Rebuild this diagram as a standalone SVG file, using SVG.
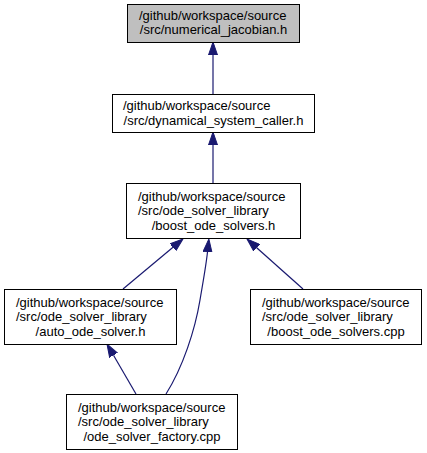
<svg xmlns="http://www.w3.org/2000/svg" width="427" height="453" viewBox="0 0 427 453">
<defs>
<style>
.box{fill:#ffffff;stroke:#000000;stroke-width:1}
.cur{fill:#bfbfbf}
text{font-family:"Liberation Sans",Arial,Helvetica,sans-serif;font-size:13px;fill:#000000}
.m{text-anchor:middle}
.e{fill:none;stroke:#191970;stroke-width:1.2}
</style>
<marker id="ah" markerUnits="userSpaceOnUse" markerWidth="14" markerHeight="10" refX="0" refY="5" orient="auto" viewBox="0 0 14 10">
<path d="M0,0.5 L13,5 L0,9.5 z" fill="#191970" stroke="#191970" stroke-width="1"/>
</marker>
</defs>
<rect width="427" height="453" fill="#ffffff"/>
<g id="connectors">
<path class="e" d="M213,94 L213,55" marker-end="url(#ah)"/>
<path class="e" d="M213,183 L213,145" marker-end="url(#ah)"/>
<path class="e" d="M123,289 L173,247.3" marker-end="url(#ah)"/>
<path class="e" d="M303,289 L256.7,247.7" marker-end="url(#ah)"/>
<path class="e" d="M166,394 C183,367 195,330 200,300 C203,282 206,266 207.5,252" marker-end="url(#ah)"/>
<path class="e" d="M136,394 L113.5,355.2" marker-end="url(#ah)"/>
</g>
<g id="node_numerical_jacobian">
<rect class="box cur" x="127.5" y="4.5" width="172" height="38"/>
<text x="139" y="19.5">/github/workspace/source</text>
<text class="m" x="213.5" y="34">/src/numerical_jacobian.h</text>
</g>
<g id="node_dynamical_system_caller">
<rect class="box" x="112.5" y="94.5" width="202" height="38"/>
<text x="123" y="110">/github/workspace/source</text>
<text class="m" x="213.5" y="124.5">/src/dynamical_system_caller.h</text>
</g>
<g id="node_boost_ode_solvers_h">
<rect class="box" x="126.5" y="183.5" width="174" height="55"/>
<text x="138" y="200.5">/github/workspace/source</text>
<text x="138" y="215">/src/ode_solver_library</text>
<text class="m" x="213.5" y="229.5">/boost_ode_solvers.h</text>
</g>
<g id="node_auto_ode_solver">
<rect class="box" x="4.5" y="289.5" width="172" height="55"/>
<text x="16" y="306.5">/github/workspace/source</text>
<text x="16" y="321">/src/ode_solver_library</text>
<text class="m" x="90.5" y="335.5">/auto_ode_solver.h</text>
</g>
<g id="node_boost_ode_solvers_cpp">
<rect class="box" x="250.5" y="289.5" width="171" height="55"/>
<text x="262" y="306.5">/github/workspace/source</text>
<text x="262" y="321">/src/ode_solver_library</text>
<text class="m" x="336" y="335.5">/boost_ode_solvers.cpp</text>
</g>
<g id="node_ode_solver_factory">
<rect class="box" x="66.5" y="394.5" width="171" height="55"/>
<text x="78" y="411.5">/github/workspace/source</text>
<text x="78" y="426">/src/ode_solver_library</text>
<text class="m" x="152" y="440.5">/ode_solver_factory.cpp</text>
</g>
</svg>
